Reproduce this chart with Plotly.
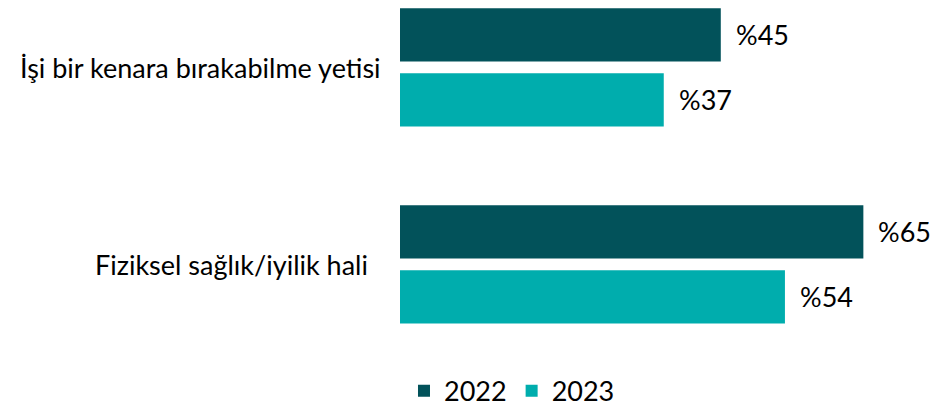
import plotly.graph_objects as go

categories = ["İşi bir kenara bırakabilme yetisi", "Fiziksel sağlık/iyilik hali"]
years = ["2022", "2023"]
values_2022 = [45, 65]
values_2023 = [37, 54]
colors = {"2022": "#02525A", "2023": "#00ADAD"}

FONT = "Lato"
FS = 27
BAR_W = 0.27
offsets = {"2022": -0.298, "2023": 0.032}

fig = go.Figure()
ypos = list(range(len(categories)))
for yr, vals in zip(years, [values_2022, values_2023]):
    fig.add_trace(go.Bar(
        x=vals, y=ypos, orientation="h", name=yr,
        marker=dict(color=colors[yr], line=dict(width=0)),
        width=BAR_W, offset=offsets[yr],
        hoverinfo="skip",
    ))
    for i, v in enumerate(vals):
        fig.add_annotation(
            x=v, y=i + offsets[yr] + BAR_W / 2, text=f"%{v}",
            xanchor="left", yanchor="middle", xshift=13, showarrow=False,
            font=dict(family=FONT, size=FS, color="#000000"),
        )

label_shift = [-17, -30]
for i, c in enumerate(categories):
    fig.add_annotation(
        x=0, y=i, xref="paper", yref="y", text=c, xanchor="right",
        yanchor="middle", xshift=label_shift[i], showarrow=False,
        font=dict(family=FONT, size=FS, color="#000000"),
    )

fig.update_layout(
    width=936, height=406,
    margin=dict(l=400, r=37, t=0, b=44, autoexpand=False),
    plot_bgcolor="white", paper_bgcolor="white",
    showlegend=True,
    legend=dict(orientation="h", x=0.008, xanchor="left", y=-0.013, yanchor="top",
                font=dict(family=FONT, size=FS, color="#000000"),
                itemwidth=30, traceorder="normal", tracegroupgap=0),
    font=dict(family=FONT, size=FS),
    xaxis=dict(range=[0, 70], showgrid=False, zeroline=False, showticklabels=False,
               showline=False, fixedrange=True),
    yaxis=dict(range=[1.497, -0.34], showgrid=False, zeroline=False,
               showticklabels=False, showline=False, fixedrange=True),
)

fig.write_html("out.html")
